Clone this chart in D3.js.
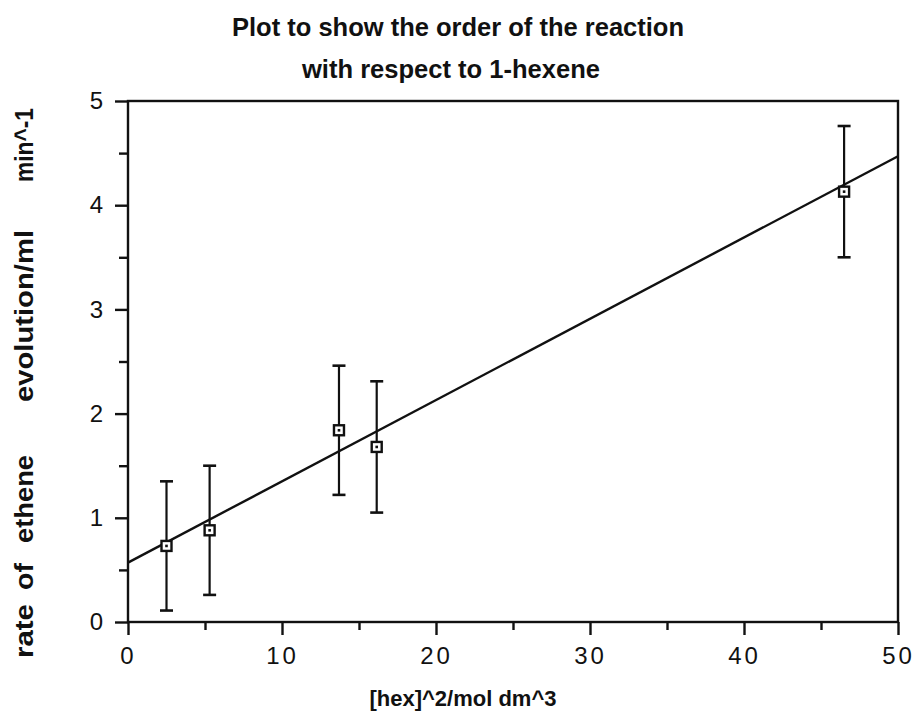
<!DOCTYPE html>
<html><head><meta charset="utf-8">
<script src="https://cdn.jsdelivr.net/npm/d3@7"></script>
<style>body{margin:0;background:#fff}svg{display:block}</style>
</head><body>
<svg id="c" width="917" height="726"></svg>
<script>
const hexSq = [2.5, 5.3, 13.7, 16.15, 46.5];
const rate = [0.73, 0.88, 1.84, 1.68, 4.13];
const err = [0.62, 0.62, 0.62, 0.63, 0.63];
const fitIntercept = 0.57, fitSlope = 0.078;
const xMajor = [0, 10, 20, 30, 40, 50];
const xMinor = [5, 15, 25, 35, 45];
const yMajor = [0, 1, 2, 3, 4, 5];
const yMinor = [0.5, 1.5, 2.5, 3.5, 4.5];
const titleLines = ["Plot to show the order of the reaction", "with respect to 1-hexene"];
const xTitle = "[hex]^2/mol dm^3";
const yTitleWords = ["rate", "of", "ethene", "evolution/ml", "min^-1"];

const svg = d3.select("#c");
const L = 128, R = 898, T = 101, B = 622;
const x = d3.scaleLinear().domain([0, 50]).range([L, R]);
const y = d3.scaleLinear().domain([0, 5]).range([B, T]);
const ink = "#111";
const font = "Liberation Sans, Arial, Helvetica, sans-serif";

svg.append("rect").attr("x", L).attr("y", T).attr("width", R - L).attr("height", B - T)
  .attr("fill", "none").attr("stroke", ink).attr("stroke-width", 2.4);

const xAx = svg.append("g").attr("transform", `translate(0,${B})`)
  .call(d3.axisBottom(x).tickValues(xMajor).tickSize(13).tickPadding(12).tickFormat(d3.format("d")));
const xAxm = svg.append("g").attr("transform", `translate(0,${B})`)
  .call(d3.axisBottom(x).tickValues(xMinor).tickSize(8).tickFormat(""));
const yAx = svg.append("g").attr("transform", `translate(${L},0)`)
  .call(d3.axisLeft(y).tickValues(yMajor).tickSize(13).tickPadding(12).tickFormat(d3.format("d")));
const yAxm = svg.append("g").attr("transform", `translate(${L},0)`)
  .call(d3.axisLeft(y).tickValues(yMinor).tickSize(9).tickFormat(""));
[xAx, xAxm, yAx, yAxm].forEach(g => {
  g.select(".domain").remove();
  g.selectAll("line").attr("stroke", ink).attr("stroke-width", 2.4);
  g.selectAll("text").attr("fill", ink).style("font-family", font).style("font-size", "24px");
});
xAx.selectAll("text").attr("letter-spacing", "3px");

svg.append("line")
  .attr("x1", x(0)).attr("y1", y(fitIntercept))
  .attr("x2", x(50)).attr("y2", y(fitIntercept + fitSlope * 50))
  .attr("stroke", ink).attr("stroke-width", 2.4);

const pts = hexSq.map((v, i) => ({x: v, y: rate[i], e: err[i]}));
const g = svg.append("g");
pts.forEach(p => {
  const cx = x(p.x);
  g.append("line").attr("x1", cx).attr("x2", cx).attr("y1", y(p.y + p.e)).attr("y2", y(p.y - p.e))
    .attr("stroke", ink).attr("stroke-width", 2.2);
  [p.y + p.e, p.y - p.e].forEach(v => g.append("line").attr("x1", cx - 6.5).attr("x2", cx + 6.5)
    .attr("y1", y(v)).attr("y2", y(v)).attr("stroke", ink).attr("stroke-width", 2.6));
  g.append("rect").attr("x", cx - 5).attr("y", y(p.y) - 5).attr("width", 10).attr("height", 10)
    .attr("fill", "#fff").attr("stroke", ink).attr("stroke-width", 2.4);
  g.append("rect").attr("x", cx - 1.3).attr("y", y(p.y) - 1.3).attr("width", 2.6).attr("height", 2.6)
    .attr("fill", ink);
});

const bold = s => s.style("font-family", font).style("font-weight", "bold").attr("fill", ink);
bold(svg.append("text").attr("x", 458).attr("y", 36).attr("text-anchor", "middle")
  .style("font-size", "25px")).attr("textLength", 452).attr("lengthAdjust", "spacingAndGlyphs").text(titleLines[0]);
bold(svg.append("text").attr("x", 451).attr("y", 78).attr("text-anchor", "middle")
  .style("font-size", "25px")).attr("textLength", 298).attr("lengthAdjust", "spacingAndGlyphs").text(titleLines[1]);
bold(svg.append("text").attr("x", 463).attr("y", 706).attr("text-anchor", "middle")
  .style("font-size", "22px")).text(xTitle);

const wordSpans = [[604, 658], [563, 590], [455, 543], [230, 402], [108, 182]];
yTitleWords.forEach((w, i) => {
  const [a, b] = wordSpans[i];
  bold(svg.append("text").attr("transform", `translate(33,${(a + b) / 2}) rotate(-90)`)
    .attr("text-anchor", "middle").style("font-size", "26px"))
    .attr("textLength", b - a).attr("lengthAdjust", "spacingAndGlyphs").text(w);
});
</script>
</body></html>
